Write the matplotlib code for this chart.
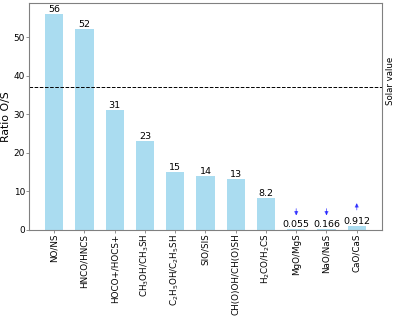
import numpy as np
import matplotlib
matplotlib.use('Agg')
import matplotlib.pyplot as plt

# Ratios O/S
labels = ['NO/NS', 'HNCO/HNCS', 'HOCO+/HOCS+', 'CH$_3$OH/CH$_3$SH',
          'C$_2$H$_5$OH/C$_2$H$_5$SH', 'SIO/SIS', 'CH(O)OH/CH(O)SH',
          'H$_2$CO/H$_2$CS', 'MgO/MgS', 'NaO/NaS', 'CaO/CaS']
values = [56, 52, 31, 23, 15, 14, 13, 8.2, 0.055, 0.166, 0.912]
value_text = ['56', '52', '31', '23', '15', '14', '13', '8.2', '0.055', '0.166', '0.912']
solar_ratio = 37

# limits: down arrows for upper limits, up arrow for lower limit
upper_limits = [8, 9]
lower_limits = [10]

# the reference looks like a scaled-down render, so small ticks and pads
for ax_name in ('xtick', 'ytick'):
    plt.rcParams[ax_name + '.major.size'] = 2.0
    plt.rcParams[ax_name + '.major.pad'] = 1.0
    plt.rcParams[ax_name + '.major.width'] = 0.6

fig, ax = plt.subplots(figsize=(3.99, 3.17), dpi=100)
plt.subplots_adjust(left=0.073, right=0.957, top=0.99, bottom=0.276)

x = np.arange(len(labels))
ax.bar(x, values, width=0.6, color='skyblue', alpha=0.7)

for i, (v, t) in enumerate(zip(values, value_text)):
    ax.text(i, v, t, ha='center', va='bottom', fontsize=6.8)

arrow_kw = dict(arrowstyle='-|>', color='blue', alpha=0.55, lw=0.7, mutation_scale=5.5,
                shrinkA=0, shrinkB=0)
for i in upper_limits:
    ax.annotate('', xy=(i, 3.6), xytext=(i, 5.4), arrowprops=arrow_kw)
for i in lower_limits:
    ax.annotate('', xy=(i, 6.9), xytext=(i, 5.1), arrowprops=arrow_kw)

ax.axhline(solar_ratio, color='black', linestyle='--', lw=0.7)
ax.set_ylim(0, 58.8)
# label sits a little above the line, right of the axes
ax.text(1.025, (solar_ratio + 1.6) / 58.8, 'Solar value', transform=ax.transAxes,
        rotation=90, va='center', ha='center', fontsize=6.2)

ax.set_xticks(x)
ax.set_xticklabels(labels, rotation=90, fontsize=6.3)
ax.tick_params(axis='y', labelsize=6.4)
ax.tick_params(color='gray')
ax.set_ylabel('Ratio O/S', fontsize=7.8, labelpad=2)
for s in ax.spines.values():
    s.set_color('gray')

plt.savefig('out.png', dpi=100)
